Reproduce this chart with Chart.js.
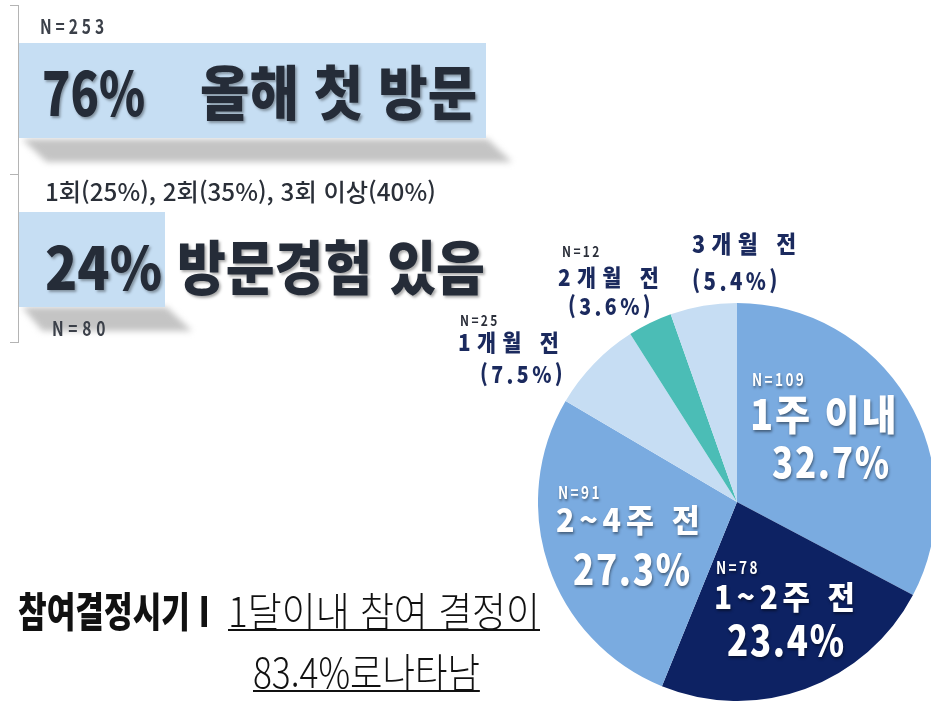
<!DOCTYPE html>
<html lang="ko">
<head>
<meta charset="utf-8">
<script src="https://cdn.jsdelivr.net/npm/chart.js@4.4.1/dist/chart.umd.min.js"></script>
<style>
  html, body { margin: 0; padding: 0; }
  body { width: 931px; height: 703px; overflow: hidden; position: relative; background: #fff;
         font-family: "Noto Sans CJK KR", "Noto Sans", sans-serif; }
  .t { position: absolute; white-space: nowrap; line-height: 1; transform-origin: left top; }
  .box { position: absolute; background: #c6def3; }
  .shadowWrap { position: absolute; filter: blur(3px); }
  .shadowWrap div { width: 100%; height: 100%; background: #c4c4c4; }
  .line { position: absolute; background: #b4b4b4; }
  #pieWrap { position: absolute; left: 538px; top: 303px; width: 398px; height: 398px; }
</style>
</head>
<body>
<!-- bracket -->
<div class="line" style="left:18px;top:5px;width:1px;height:338px"></div>
<div class="line" style="left:10px;top:5px;width:9px;height:1px"></div>
<div class="line" style="left:10px;top:174px;width:9px;height:1px"></div>
<div class="line" style="left:10px;top:342px;width:9px;height:1px"></div>

<!-- shadows under boxes -->
<div class="shadowWrap" style="left:22px;top:139px;width:490px;height:23px">
  <div style="clip-path:polygon(0 0,95% 0,100% 100%,5% 100%)"></div>
</div>
<div class="shadowWrap" style="left:22px;top:307px;width:170px;height:24px">
  <div style="clip-path:polygon(0 0,85% 0,100% 100%,12% 100%)"></div>
</div>
<div class="box" style="left:19px;top:43px;width:467px;height:95px"></div>
<div class="box" style="left:19px;top:212px;width:146px;height:95px"></div>

<div id="leftText"></div>
<div id="pieWrap"><canvas id="pie" width="398" height="398"></canvas></div>
<div id="pieLabels"></div>

<script>
// ---- data ----
const categories = ["1주 이내", "1~2주 전", "2~4주 전", "1개월 전", "2개월 전", "3개월 전"];
const shares = [32.7, 23.4, 27.3, 7.5, 3.6, 5.4];          // %
const counts = [109, 78, 91, 25, 12, null];                 // N per slice (3개월 전 not shown)
const sliceColors = ["#7aabe0", "#0d2263", "#7aabe0", "#c6ddf3", "#4bbdb6", "#c6ddf3"];

const firstVisitN = 253;
const revisitN = 80;
const firstVisitPct = 76;
const revisitPct = 24;
const revisitBreakdown = ["1회(25%)", "2회(35%)", "3회 이상(40%)"];
const withinMonthPct = 83.4;

// ---- left side text ----
const dark = "#252c38";
const bigShadow = "2px 2px 3px rgba(0,0,0,0.35)";
function addText(parent, txt, css) {
  const d = document.createElement("div");
  d.className = "t";
  d.textContent = txt;
  Object.assign(d.style, css);
  parent.appendChild(d);
  return d;
}
const left = document.getElementById("leftText");
addText(left, "N=" + firstVisitN, { left: "40px", top: "16px", fontSize: "20px", fontWeight: "700",
  color: "#3b4049", letterSpacing: "5px", transform: "scaleX(0.78)" });
addText(left, firstVisitPct + "%", { left: "42px", top: "60px", fontSize: "60px", fontWeight: "900",
  color: dark, textShadow: bigShadow, transform: "scaleX(0.78)" });
addText(left, "올해 첫 방문", { left: "200px", top: "60px", fontSize: "59px", fontWeight: "900",
  color: dark, textShadow: bigShadow, transform: "scaleX(0.91)" });
addText(left, revisitBreakdown.join(", "), { left: "45px", top: "179px", fontSize: "24px", fontWeight: "500",
  color: "#2a2f38", transform: "scaleX(1.01)" });
addText(left, revisitPct + "% 방문경험 있음", { left: "45px", top: "235px", fontSize: "59px", fontWeight: "900",
  color: dark, textShadow: bigShadow, transform: "scaleX(0.9)" });
addText(left, "N=" + revisitN, { left: "52px", top: "318px", fontSize: "20px", fontWeight: "700",
  color: "#3b4049", letterSpacing: "6px", transform: "scaleX(0.78)" });

addText(left, "참여결정시기 I", { left: "18px", top: "589px", fontSize: "41px", fontWeight: "900",
  color: "#111", transform: "scaleX(0.76)" });
addText(left, "1달이내 참여 결정이", { left: "228px", top: "589px", fontSize: "41px", fontWeight: "300",
  color: "#111", textDecoration: "underline", textDecorationThickness: "2px", textUnderlineOffset: "2px",
  transform: "scaleX(0.9)" });
addText(left, withinMonthPct + "%로나타남", { left: "253px", top: "650px", fontSize: "41px", fontWeight: "300",
  color: "#111", textDecoration: "underline", textDecorationThickness: "2px", textUnderlineOffset: "2px",
  transform: "scaleX(0.86)" });

// ---- pie labels ----
const navy = "#1b2a5e";
const white = "#ffffff";
const pieShadow = "1px 2px 3px rgba(0,0,0,0.45)";
// [index, x, nTop, nameTop, pctTop, nameSize, pctSize, colour, inside, nameSpacing, nameScale]
const labelLayout = [
  [0, 750, 370, 392, 440, 41, 41, white, true, 2, 0.93],
  [1, 714, 558, 579, 618, 32, 41, white, true, 5, 0.93],
  [2, 556, 483, 502, 547, 32, 41, white, true, 5, 0.95],
  [3, 458, 312, 330, 362, 23, 23, navy, false, 7, 0.9],
  [4, 558, 243, 265, 294, 23, 23, navy, false, 7, 0.9],
  [5, 692, null, 231, 268, 24, 24, navy, false, 7, 0.9],
];
const pl = document.getElementById("pieLabels");
labelLayout.forEach(([i, x, nTop, nameTop, pctTop, nameSize, pctSize, col, inside, sp, sc]) => {
  const sh = inside ? pieShadow : "none";
  if (counts[i] !== null) {
    addText(pl, "N=" + counts[i], { left: x + (i === 4 ? 4 : 2) + "px", top: nTop + "px",
      fontSize: inside ? "17px" : "15px", fontWeight: "700", color: inside ? white : "#2b2f3a",
      letterSpacing: "3px", textShadow: sh, transform: "scaleX(0.8)" });
  }
  addText(pl, categories[i], { left: x + "px", top: nameTop + "px", fontSize: nameSize + "px",
    fontWeight: "900", color: col, textShadow: sh, letterSpacing: sp + "px",
    transform: "scaleX(" + sc + ")" });
  const pct = inside ? shares[i].toFixed(1) + "%" : "(" + shares[i].toFixed(1) + "%)";
  const pctX = inside ? x + (i === 0 ? 22 : i === 1 ? 13 : 17) : x + (i === 3 ? 22 : i === 4 ? 10 : 0);
  addText(pl, pct, { left: pctX + "px", top: pctTop + "px", fontSize: pctSize + "px", fontWeight: "900",
    color: col, textShadow: sh, letterSpacing: inside ? "2px" : "4px", transform: "scaleX(0.85)" });
});

// ---- pie ----
new Chart(document.getElementById("pie").getContext("2d"), {
  type: "pie",
  data: {
    labels: categories,
    datasets: [{
      data: shares,
      backgroundColor: sliceColors,
      borderWidth: 0,
    }],
  },
  options: {
    responsive: false,
    animation: false,
    layout: { padding: 0 },
    plugins: {
      legend: { display: false },
      tooltip: { enabled: false },
    },
  },
});
</script>
</body>
</html>
